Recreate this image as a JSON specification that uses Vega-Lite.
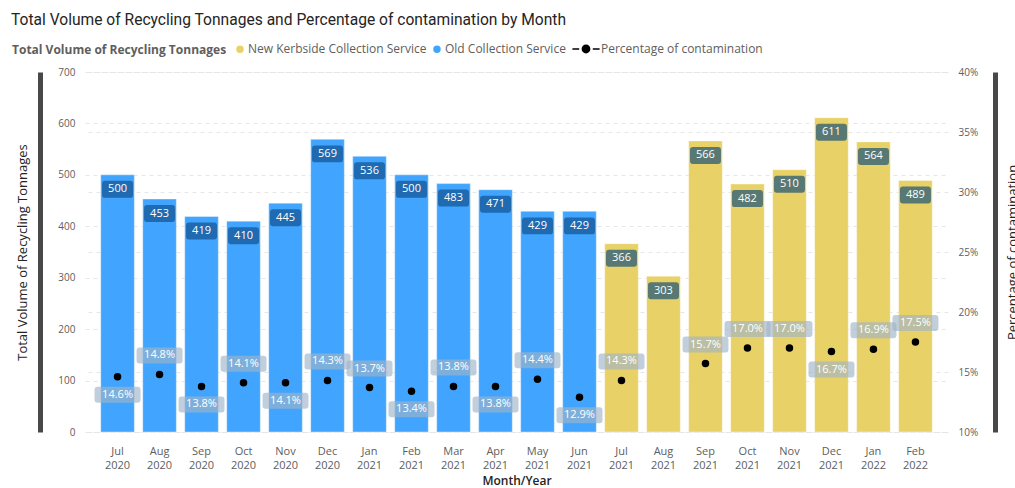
{
  "$schema": "https://vega.github.io/schema/vega-lite/v6.json",
  "width": 863,
  "height": 360,
  "autosize": {"type": "none"},
  "padding": {"left": 85, "top": 72, "right": 67, "bottom": 56},
  "background": "white",
  "title": {
    "text": "Total Volume of Recycling Tonnages and Percentage of contamination by Month",
    "anchor": "start",
    "font": "Roboto",
    "fontSize": 15.6,
    "fontWeight": "normal",
    "color": "#252423",
    "dx": -1,
    "offset": 14
  },
  "config": {
    "font": "Open Sans",
    "view": {"stroke": null},
    "axis": {"labelFont": "Open Sans", "titleFont": "Open Sans"}
  },
  "data": {
    "values": [
      {"month": "Jul 2020", "series": "Old Collection Service", "tonnes": 500, "pct": 0.146},
      {"month": "Aug 2020", "series": "Old Collection Service", "tonnes": 453, "pct": 0.148},
      {"month": "Sep 2020", "series": "Old Collection Service", "tonnes": 419, "pct": 0.138},
      {"month": "Oct 2020", "series": "Old Collection Service", "tonnes": 410, "pct": 0.141},
      {"month": "Nov 2020", "series": "Old Collection Service", "tonnes": 445, "pct": 0.141},
      {"month": "Dec 2020", "series": "Old Collection Service", "tonnes": 569, "pct": 0.143},
      {"month": "Jan 2021", "series": "Old Collection Service", "tonnes": 536, "pct": 0.137},
      {"month": "Feb 2021", "series": "Old Collection Service", "tonnes": 500, "pct": 0.134},
      {"month": "Mar 2021", "series": "Old Collection Service", "tonnes": 483, "pct": 0.138},
      {"month": "Apr 2021", "series": "Old Collection Service", "tonnes": 471, "pct": 0.138},
      {"month": "May 2021", "series": "Old Collection Service", "tonnes": 429, "pct": 0.144},
      {"month": "Jun 2021", "series": "Old Collection Service", "tonnes": 429, "pct": 0.129},
      {"month": "Jul 2021", "series": "New Kerbside Collection Service", "tonnes": 366, "pct": 0.143},
      {"month": "Aug 2021", "series": "New Kerbside Collection Service", "tonnes": 303, "pct": null},
      {"month": "Sep 2021", "series": "New Kerbside Collection Service", "tonnes": 566, "pct": 0.157},
      {"month": "Oct 2021", "series": "New Kerbside Collection Service", "tonnes": 482, "pct": 0.170},
      {"month": "Nov 2021", "series": "New Kerbside Collection Service", "tonnes": 510, "pct": 0.170},
      {"month": "Dec 2021", "series": "New Kerbside Collection Service", "tonnes": 611, "pct": 0.167},
      {"month": "Jan 2022", "series": "New Kerbside Collection Service", "tonnes": 564, "pct": 0.169},
      {"month": "Feb 2022", "series": "New Kerbside Collection Service", "tonnes": 489, "pct": 0.175}
    ]
  },
  "encoding": {
    "x": {
      "field": "month",
      "type": "ordinal",
      "sort": null,
      "scale": {"paddingInner": 0.2, "paddingOuter": 0.375},
      "axis": {
        "title": "Month/Year",
        "labelAngle": 0,
        "labelExpr": "split(datum.label, ' ')",
        "labelColor": "#605E5C",
        "labelFontSize": 11,
        "labelLineHeight": 14,
        "labelPadding": 13,
        "labelBaseline": "top",
        "ticks": false,
        "domain": false,
        "titleColor": "#252423",
        "titleFontSize": 12,
        "titleFontWeight": 600,
        "titlePadding": 5
      }
    }
  },
  "layer": [
    {
      "encoding": {
        "y": {
          "field": "tonnes",
          "type": "quantitative",
          "scale": {"domain": [0, 700]},
          "axis": {
            "title": "Total Volume of Recycling Tonnages",
            "values": [0, 100, 200, 300, 400, 500, 600, 700],
            "offset": 45,
            "domain": true,
            "domainColor": "#484848",
            "domainWidth": 5,
            "ticks": false,
            "tickSize": 0,
            "labelPadding": -35,
            "labelColor": "#605E5C",
            "labelFontSize": 10,
            "grid": true,
            "gridColor": "#E6E6E6",
            "gridDash": [4, 4],
            "titleColor": "#252423",
            "titleFontSize": 13,
            "titleFontWeight": "normal",
            "titlePadding": 11
          }
        }
      },
      "layer": [
        {
          "mark": {"type": "bar", "stroke": "#FFFFFF", "strokeOpacity": 0.35, "strokeWidth": 1},
          "encoding": {
            "color": {
              "field": "series",
              "type": "nominal",
              "scale": {
                "domain": ["New Kerbside Collection Service", "Old Collection Service"],
                "range": ["#E8D166", "#41A5FF"]
              },
              "legend": {
                "title": "Total Volume of Recycling Tonnages",
                "orient": "none",
                "legendX": -73,
                "legendY": -29,
                "direction": "horizontal",
                "titleOrient": "left",
                "titleFontWeight": "bold",
                "titleFontSize": 12,
                "titleColor": "#605E5C",
                "titlePadding": 7,
                "titleLimit": 500,
                "labelLimit": 400,
                "labelFontSize": 12,
                "labelColor": "#605E5C",
                "labelOffset": 2,
                "symbolType": "circle",
                "symbolSize": 80,
                "columnPadding": 2
              }
            }
          }
        },
        {
          "mark": {
            "type": "point",
            "filled": true,
            "opacity": 1,
            "size": 961,
            "shape": "M-0.81,-0.548H0.81Q1,-0.548,1,-0.358V0.358Q1,0.548,0.81,0.548H-0.81Q-1,0.548,-1,0.358V-0.358Q-1,-0.548,-0.81,-0.548Z",
            "yOffset": 14.5
          },
          "encoding": {
            "fill": {
              "condition": {"test": "datum.series === 'Old Collection Service'", "value": "#1F6AB0"},
              "value": "#587873"
            }
          }
        },
        {
          "mark": {"type": "text", "color": "#FFFFFF", "fontSize": 11, "baseline": "middle", "yOffset": 14.5},
          "encoding": {"text": {"field": "tonnes", "type": "quantitative"}}
        }
      ]
    },
    {
      "transform": [{"filter": {"field": "pct", "valid": true}}],
      "encoding": {
        "y": {
          "field": "pct",
          "type": "quantitative",
          "scale": {"domain": [0.1, 0.4], "zero": false},
          "axis": {
            "orient": "right",
            "title": "Percentage of contamination",
            "titleAngle": 270,
            "values": [0.1, 0.15, 0.2, 0.25, 0.3, 0.35, 0.4],
            "format": ".0%",
            "offset": 47,
            "domain": true,
            "domainColor": "#484848",
            "domainWidth": 5,
            "ticks": false,
            "tickSize": 0,
            "labelPadding": -37,
            "labelColor": "#605E5C",
            "labelFontSize": 10,
            "grid": true,
            "gridColor": "#E6E6E6",
            "gridDash": [4, 4],
            "titleColor": "#252423",
            "titleFontSize": 13,
            "titleFontWeight": "normal",
            "titlePadding": 24
          }
        }
      },
      "layer": [
        {
          "mark": {"type": "point", "filled": true, "size": 56, "opacity": 1, "color": "#000000"}
        },
        {
          "mark": {"type": "point", "filled": true, "size": 56, "opacity": 0, "color": "#000000"},
          "encoding": {
            "shape": {
              "datum": "Percentage of contamination",
              "type": "nominal",
              "scale": {
                "domain": ["Percentage of contamination"],
                "range": ["M-3.4,-0.16H-1.7V0.16H-3.4ZM1.7,-0.16H3.4V0.16H1.7ZM1.1,0A1.1,1.1,0,1,1,-1.1,0A1.1,1.1,0,1,1,1.1,0Z"]
              },
              "legend": {
                "title": null,
                "orient": "none",
                "legendX": 495,
                "legendY": -29,
                "symbolSize": 64,
                "symbolOpacity": 1,
                "symbolFillColor": "#000000",
                "labelFontSize": 12,
                "labelColor": "#605E5C",
                "labelOffset": 9,
                "labelLimit": 400
              }
            }
          }
        },
        {
          "transform": [{"filter": {"field": "month", "oneOf": ["Aug 2020", "Oct 2020", "Dec 2020", "Jan 2021", "Mar 2021", "May 2021", "Jul 2021", "Sep 2021", "Oct 2021", "Nov 2021", "Jan 2022", "Feb 2022"]}}],
          "layer": [
            {
              "mark": {
                "type": "point",
                "filled": true,
                "size": 2116,
                "fill": "#9FB3C8",
                "opacity": 0.65,
                "shape": "M-0.87,-0.348H0.87Q1,-0.348,1,-0.218V0.218Q1,0.348,0.87,0.348H-0.87Q-1,0.348,-1,0.218V-0.218Q-1,-0.348,-0.87,-0.348Z",
                "yOffset": -19
              }
            },
            {
              "mark": {"type": "text", "color": "#FFFFFF", "fontSize": 11, "baseline": "middle", "yOffset": -19},
              "encoding": {"text": {"field": "pct", "type": "quantitative", "format": ".1%"}}
            }
          ]
        },
        {
          "transform": [{"filter": {"field": "month", "oneOf": ["Jul 2020", "Sep 2020", "Nov 2020", "Feb 2021", "Apr 2021", "Jun 2021", "Dec 2021"]}}],
          "layer": [
            {
              "mark": {
                "type": "point",
                "filled": true,
                "size": 2116,
                "fill": "#9FB3C8",
                "opacity": 0.65,
                "shape": "M-0.87,-0.348H0.87Q1,-0.348,1,-0.218V0.218Q1,0.348,0.87,0.348H-0.87Q-1,0.348,-1,0.218V-0.218Q-1,-0.348,-0.87,-0.348Z",
                "yOffset": 18
              }
            },
            {
              "mark": {"type": "text", "color": "#FFFFFF", "fontSize": 11, "baseline": "middle", "yOffset": 18},
              "encoding": {"text": {"field": "pct", "type": "quantitative", "format": ".1%"}}
            }
          ]
        }
      ]
    }
  ],
  "resolve": {"scale": {"y": "independent"}}
}
